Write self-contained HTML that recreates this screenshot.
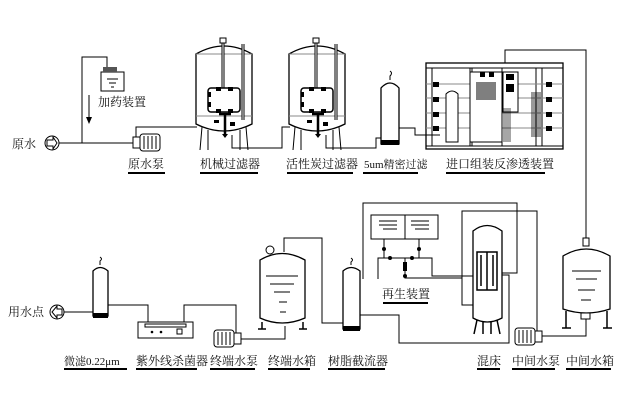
<!DOCTYPE html>
<html><head><meta charset="utf-8"><style>
html,body{margin:0;padding:0;background:#fff;}
svg{display:block}
text{font-family:"Liberation Serif","Noto Serif CJK SC",serif;font-size:12px;fill:#111}
</style></head><body>
<svg width="619" height="402" viewBox="0 0 619 402" xmlns="http://www.w3.org/2000/svg">
<defs>
<g id="pump">
 <rect x="0" y="3" width="8" height="11" fill="#fff" stroke="#000"/>
 <rect x="7" y="0" width="20" height="17" rx="3" fill="#fff" stroke="#000"/>
 <line x1="11" y1="2" x2="11" y2="15" stroke="#000"/><line x1="15" y1="2" x2="15" y2="15" stroke="#000"/><line x1="19" y1="2" x2="19" y2="15" stroke="#000"/><line x1="23" y1="2" x2="23" y2="15" stroke="#000"/>
</g>
<g id="ftank">
 <path d="M0,12 Q28,-4 56,12 L56,82 Q28,96 0,82 Z" fill="#fff" stroke="#000" stroke-width="1.3"/>
 <line x1="0" y1="12" x2="56" y2="12" stroke="#888"/>
 <line x1="0" y1="74" x2="56" y2="74" stroke="#888"/>
 <path d="M6,85 L4,108 M12,88 L12,108 M44,88 L44,108 M50,85 L52,108" stroke="#000" fill="none"/>
 <line x1="27" y1="0" x2="27" y2="47" stroke="#000" stroke-width="3"/>
 <line x1="27" y1="0" x2="27" y2="47" stroke="#fff" stroke-width="1"/>
 <rect x="24" y="-4" width="6" height="5" fill="#fff" stroke="#000"/>
 <line x1="47" y1="2" x2="47" y2="78" stroke="#000" stroke-width="3"/><line x1="47" y1="2" x2="47" y2="78" stroke="#fff"/>
 <rect x="12" y="46" width="32" height="24" rx="3" fill="#fff" stroke="#000" stroke-width="1.5"/>
 <rect x="12" y="50" width="3" height="5" fill="#000"/><rect x="12" y="60" width="3" height="5" fill="#000"/>
 <rect x="20" y="45" width="5" height="4" fill="#000"/><rect x="32" y="45" width="5" height="4" fill="#000"/>
 <rect x="20" y="67" width="5" height="4" fill="#000"/><rect x="32" y="67" width="5" height="4" fill="#000"/>
 <path d="M23,72 L35,72 M29,72 L29,92" stroke="#000" stroke-width="2.5" fill="none"/>
 <rect x="18" y="78" width="5" height="3" fill="#000"/><rect x="34" y="80" width="5" height="4" fill="#000"/>
 <path d="M26,92 L32,92 L29,96Z" fill="#000"/>
</g>
</defs>
<g fill="none" stroke="#000" stroke-width="1">
<path d="M59,143 H135 M82,143 V57 H107 V70"/>
<path d="M136,139 V127 H197"/>
<path d="M232,135 V148 H282 V127 H290"/>
<path d="M326,135 V148 H376 V138 H382"/>
<path d="M398,128 H415 V135 H440"/>
<path d="M505,63 V50 H586 V238"/>
<path d="M89,95 V120"/>
</g>
<path d="M86,117 L89,124 L92,117Z" fill="#000"/>
<circle cx="52" cy="143" r="7" fill="#fff" stroke="#000"/>
<path d="M47,140 H53 V137 L57,143 L53,149 V146 H47Z" fill="none" stroke="#000"/>
<text x="12" y="148">原水</text>
<rect x="101" y="72" width="23" height="19" fill="#fff" stroke="#000"/>
<rect x="103" y="67" width="14" height="5" fill="#555"/>
<path d="M107,79 H118 M109,83 H116 M111,87 H114" stroke="#000"/>
<text x="98" y="106">加药装置</text>
<use href="#pump" x="133" y="134"/>
<use href="#ftank" x="196" y="42"/>
<use href="#ftank" x="289" y="42"/>
<path d="M381,88 Q390,78 399,88 V144 H381Z" fill="#fff" stroke="#000" stroke-width="1.3"/>
<rect x="381" y="140" width="18" height="5" fill="#000"/>
<path d="M390,80 V76 Q393,73 390,71" fill="none" stroke="#000"/>
<g stroke="#000" fill="none">
<rect x="426" y="63" width="137" height="86" stroke-width="1.3"/>
<line x1="426" y1="68" x2="563" y2="68"/><line x1="426" y1="146" x2="563" y2="146"/>
<path d="M432,68 V146 M470,68 V146 M472,68 V146 M502,68 V146 M536,68 V146 M542,68 V146"/>
<path d="M426,84 H563 M426,98 H563 M426,113 H563 M426,128 H563" stroke="#888"/>
<rect x="470" y="72" width="32" height="70" fill="#fff"/>
<rect x="503" y="72" width="15" height="40" fill="#fff"/>
</g>
<g fill="#000">
<rect x="433" y="82" width="6" height="5"/><rect x="433" y="97" width="6" height="5"/><rect x="433" y="112" width="6" height="5"/><rect x="433" y="126" width="6" height="5"/>
<rect x="546" y="82" width="6" height="5"/><rect x="546" y="97" width="6" height="5"/><rect x="546" y="112" width="6" height="5"/><rect x="546" y="126" width="6" height="5"/>
<rect x="480" y="72" width="5" height="5"/><rect x="489" y="72" width="5" height="5"/>
<rect x="476" y="82" width="20" height="18" opacity=".5"/>
<rect x="506" y="74" width="8" height="6"/><rect x="506" y="84" width="8" height="8"/>
<rect x="531" y="92" width="10" height="45" opacity=".4"/>
<rect x="503" y="108" width="8" height="34" opacity=".35"/>
</g>
<path d="M446,94 Q452,88 458,94 V142 H446Z" fill="#fff" stroke="#000"/>
<g><text x="128" y="168">原水泵</text><text x="200" y="168">机械过滤器</text><text x="286" y="168">活性炭过滤器</text><text x="364" y="168" style="font-size:11px">5um精密过滤</text><text x="446" y="168">进口组装反渗透装置</text></g>
<g stroke="#000" stroke-width="2"><path d="M128,173 H165 M200,173 H258 M287,173 H353 M363,173 H418 M446,173 H545"/></g>

<g fill="none" stroke="#000">
<path d="M64,312 H93 M108,305 H148 V322 M184,322 V305 H236 V334"/>
<path d="M240,339 H285 V326"/>
<path d="M284,252 V238 H322 V323 H343"/>
<path d="M360,315 H399 V343 H509 V275 H497"/>
<path d="M363,279 V203 H517 V273 H500"/>
<path d="M378,279 V258 H432 V276 H473"/>
<path d="M405,258 V278 H462 V211 H537 V331"/>
<path d="M462,278 V305 H473"/>
<path d="M542,336 H586 V318"/>
<path d="M384,239 V258 M419,239 V258"/>
</g>
<circle cx="57" cy="312" r="7" fill="#fff" stroke="#000"/>
<path d="M62,309 H57 V306 L52,312 L57,318 V315 H62Z" fill="none" stroke="#000"/>
<text x="8" y="316">用水点</text>
<path d="M93,271 Q100,264 108,271 V316 H93Z" fill="#fff" stroke="#000" stroke-width="1.3"/>
<rect x="93" y="313" width="15" height="5" fill="#000"/>
<path d="M100,265 V261 Q103,259 100,257" fill="none" stroke="#000"/>
<rect x="138" y="322" width="55" height="16" fill="#fff" stroke="#000"/>
<rect x="145" y="324" width="41" height="3" fill="none" stroke="#000"/>
<circle cx="152" cy="332" r="1.3" fill="#000"/><circle cx="161" cy="332" r="1.3" fill="#000"/><rect x="177" y="329" width="5" height="5" fill="none" stroke="#000"/>
<use href="#pump" x="213" y="330" transform="translate(454,0) scale(-1,1)"/>
<path d="M260,260 Q282,247 305,260 V318 Q282,328 260,318Z" fill="#fff" stroke="#000" stroke-width="1.3"/>
<path d="M266,276 H298 M270,284 H294 M274,292 H290 M279,302 H287 M280,312 H286" stroke="#000"/>
<circle cx="270" cy="250" r="4" fill="#fff" stroke="#000"/>
<path d="M262,322 V329 M303,322 V329 M258,329 H266 M299,329 H307" stroke="#000" stroke-width="1.5"/>
<path d="M343,271 Q351,264 360,271 V329 H343Z" fill="#fff" stroke="#000" stroke-width="1.3"/>
<rect x="343" y="326" width="17" height="5" fill="#000"/>
<path d="M351,265 V262 Q354,260 351,258" fill="none" stroke="#000"/>
<rect x="371" y="215" width="67" height="24" fill="#fff" stroke="#000"/>
<line x1="405" y1="215" x2="405" y2="239" stroke="#000"/>
<path d="M379,221 H397 M379,225 H397 M383,229 H397 M411,221 H429 M411,225 H429 M415,229 H429" stroke="#000"/>
<g fill="#000"><circle cx="384" cy="249" r="2"/><circle cx="419" cy="249" r="2"/><circle cx="390" cy="258" r="2"/><circle cx="412" cy="258" r="2"/><circle cx="405" cy="276" r="2"/><rect x="403" y="262" width="4" height="9"/></g>
<text x="382" y="298">再生装置</text>
<path d="M473,231 Q487,220 502,231 V318 Q487,326 473,318Z" fill="#fff" stroke="#000" stroke-width="1.3"/>
<path d="M477,252 H497 V290 H477Z M481,255 V286 M487,252 V290 M493,255 V286" fill="none" stroke="#000" stroke-width="1.5"/>
<path d="M477,320 L474,334 M483,322 L483,334 M491,322 L491,334 M497,320 L500,334" stroke="#000" stroke-width="1.5"/>
<use href="#pump" x="515" y="328" transform="translate(1057,0) scale(-1,1)"/>
<path d="M563,256 Q586,242 610,256 V309 Q586,317 563,309Z" fill="#fff" stroke="#000" stroke-width="1.3"/>
<rect x="583" y="238" width="6" height="8" fill="#fff" stroke="#000"/>
<path d="M572,271 H601 M576,279 H597 M578,290 H595 M581,300 H591" stroke="#000"/>
<path d="M566,311 V328 M607,311 V328 M562,328 H571 M603,328 H612" stroke="#000" stroke-width="1.5"/>
<rect x="581" y="313" width="9" height="6" fill="#fff" stroke="#000"/>
<g><text x="64" y="365" style="font-size:11px">微滤0.22μm</text><text x="136" y="365">紫外线杀菌器</text><text x="210" y="365">终端水泵</text><text x="268" y="365">终端水箱</text><text x="328" y="365">树脂截流器</text><text x="477" y="365">混床</text><text x="512" y="365">中间水泵</text><text x="566" y="365">中间水箱</text></g>
<g stroke="#000" stroke-width="2"><path d="M64,369 H127 M136,369 H197 M210,369 H255 M268,369 H310 M328,369 H385 M477,369 H500 M512,369 H555 M566,369 H611 M383,303 H428"/></g>
</svg>
</body></html>
